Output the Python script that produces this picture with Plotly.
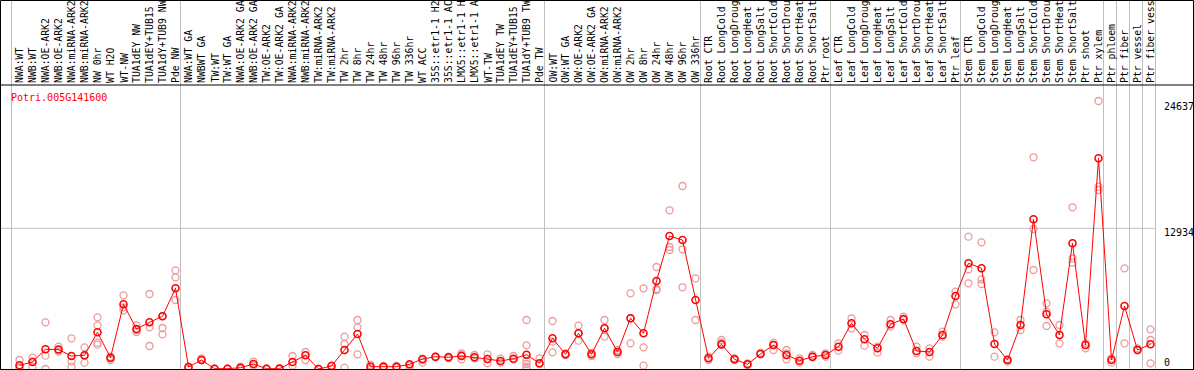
import plotly.graph_objects as go

# ---------------- data ----------------
gene_id = "Potri.005G141600"

group_nw = ["NWA:WT", "NWB:WT", "NWA:OE-ARK2", "NWB:OE-ARK2", "NWA:miRNA-ARK2", "NWB:miRNA-ARK2",
            "NW 0hr", "WT H2O", "WT-NW", "TUA1dEY NW", "TUA1dEY+TUB15 NW", "TUA1dY+TUB9 NW", "Pde NW"]
group_tw = ["NWA:WT GA", "NWBWT GA", "TW:WT", "TW:WT GA", "NWA:OE-ARK2 GA", "NWB:OE-ARK2 GA",
            "TW:OE-ARK2", "TW:OE-ARK2 GA", "NWA:miRNA-ARK2", "NWB:miRNA-ARK2", "TW:miRNA-ARK2",
            "TW:miRNA-ARK2", "TW 2hr", "TW 8hr", "TW 24hr", "TW 48hr", "TW 96hr", "TW 336hr", "WT ACC",
            "35S::etr1-1 H2O", "35S::etr1-1 ACC", "LMX5::etr1-1 H2O", "LMX5::etr1-1 ACC", "WT-TW",
            "TUA1dEY TW", "TUA1dEY+TUB15 TW", "TUA1dY+TUB9 TW", "Pde TW"]
group_ow = ["OW:WT", "OW:WT GA", "OW:OE-ARK2", "OW:OE-ARK2 GA", "OW:miRNA-ARK2", "OW:miRNA-ARK2",
            "OW 2hr", "OW 8hr", "OW 24hr", "OW 48hr", "OW 96hr", "OW 336hr"]
group_root = ["Root CTR", "Root LongCold", "Root LongDrought", "Root LongHeat", "Root LongSalt",
              "Root ShortCold", "Root ShortDrought", "Root ShortHeat", "Root ShortSalt", "Ptr root"]
group_leaf = ["Leaf CTR", "Leaf LongCold", "Leaf LongDrought", "Leaf LongHeat", "Leaf LongSalt",
              "Leaf ShortCold", "Leaf ShortDrought", "Leaf ShortHeat", "Leaf ShortSalt", "Ptr leaf"]
group_stem = ["Stem CTR", "Stem LongCold", "Stem LongDrought", "Stem LongHeat", "Stem LongSalt",
              "Stem ShortCold", "Stem ShortDrought", "Stem ShortHeat", "Stem ShortSalt", "Ptr shoot",
              "Ptr xylem"]
group_ptr = ["Ptr phloem", "Ptr fiber", "Ptr vessel", "Ptr fiber vessel"]

groups = [group_nw, group_tw, group_ow, group_root, group_leaf, group_stem] + [[c] for c in group_ptr]
categories = [c for g in groups for c in g]

mean_values = [
    340, 644, 1811, 1790, 1195, 1259, 3374, 1039, 5948, 3677, 4293, 4845, 7419,
    184, 827, 28, 28, 120, 460, 28, 28, 644, 1259, 0, 276, 1747, 3218, 211, 211, 211,
    432, 919, 1131, 1076, 1195, 1076, 919, 735, 947, 1315, 524,
    2822, 1351, 3282, 1351, 3742, 1563, 4661, 3282, 8090, 12227, 11859, 6343,
    984, 2271, 892, 432, 1379, 2206, 1287, 763, 1131, 1287,
    2050, 4201, 2730, 1903, 4109, 4597, 1655, 1563, 3126, 6711,
    9717, 9257, 2298, 827, 4045, 13762, 5029, 3126, 11556, 2206, 19370,
    827, 5792, 1747, 2271,
]

replicates = [
    [827, 61, 123], [1042, 674, 214], [4290, 1226, 0], [2053, 1746, 1593], [2819, 674, 214],
    [1992, 582, 1195], [4749, 4014, 2421, 2237], [1134, 980, 827], [6771, 5668, 5393],
    [4014, 3401, 3585], [6894, 3830, 2114], [4872, 3769, 3187], [9069, 8426, 6342],
    [214, 0], [980, 827], [31, 0], [31, 0], [214, 0], [674, 306], [31, 0], [92, 0],
    [1195, 306], [1563, 827], [0, 0], [306, 0], [2972, 2298, 123], [4504, 3830, 1348],
    [368, 0], [276, 123], [276, 123],
    [306, 61], [827, 582], [1134, 1072], [1134, 980], [1440, 1287, 889], [1287, 980],
    [1348, 521], [950, 582], [1195, 889], [4504, 2175, 735, 460, 214, 0], [980, 460],
    [4412, 1532, 2512], [1440, 1287], [3983, 2604, 3278], [1501, 1195], [4504, 2972, 3738],
    [1746, 1379], [6955, 2359, 4657], [7415, 1992, 306], [9376, 7354, 7262],
    [14589, 11215, 10940], [16823, 11004, 7511], [8334, 4504],
    [1134, 827], [2666, 2421, 2206], [980, 827], [521, 368], [1501, 1379], [2421, 1746, 2206],
    [1746, 889, 1440], [980, 582], [1287, 1072], [1440, 1134],
    [2359, 1685], [4657, 3738], [3125, 2145], [2053, 1501], [4504, 3891], [4810, 4504],
    [2053, 1440], [1900, 1134], [3432, 2972], [7108, 5944],
    [12164, 9161, 7874], [11643, 8242, 7813], [3370, 1134], [889, 674], [4504, 3585],
    [19462, 12870, 9101], [6036, 5270, 3953], [4044, 2359], [14865, 10177, 9772],
    [2359, 1900], [24637, 16759, 16455],
    [980, 582], [9253, 2359], [1746, 1900], [3646, 2666, 521],
]

right_ticks = [24637, 12934, 0]

# header only has room for this many characters (the reference cuts longer names)
LABEL_CHARS = 14

# ---------------- geometry helpers ----------------
W, H = 1194, 370
X0_PX, STEP_PX = 19.5, 13.0
xmin = -X0_PX / STEP_PX
xmax = (W - X0_PX) / STEP_PX
# y scale: value 0 at pixel 369, 12934 at pixel 228.3 (plot area = whole figure)
px_per_unit = (369 - 228.3) / 12934.0
ymax = 369 / px_per_unit
ymin = ymax - H / px_per_unit


def py(p):
    """pixel row -> paper y"""
    return 1 - p / H


def px(p):
    return p / W


x_idx = list(range(len(categories)))

fig = go.Figure()

# replicate points
rx, ry = [], []
for i, reps in enumerate(replicates):
    for v in reps:
        rx.append(i)
        ry.append(v)
fig.add_trace(go.Scatter(
    x=rx, y=ry, mode="markers",
    marker=dict(symbol="circle-open", size=7, color="#ec9a9a", line=dict(width=1.3, color="#ec9a9a")),
    hoverinfo="skip", showlegend=False,
))

# mean line
fig.add_trace(go.Scatter(
    x=x_idx, y=mean_values, mode="lines+markers",
    line=dict(color="#ff0000", width=1),
    marker=dict(symbol="circle-open", size=7, color="#ff0000", line=dict(width=1.6, color="#ff0000")),
    text=categories, showlegend=False,
))

shapes = []
# group separators (gray vertical lines, full height)
starts = []
pos = 0
for g in groups:
    starts.append(pos)
    pos += len(g)
starts.append(pos)
for s in starts:
    xs = s - 8.0 / STEP_PX
    shapes.append(dict(type="line", xref="x", yref="paper", x0=xs, x1=xs, y0=0, y1=1,
                       line=dict(color="#c0c0c0", width=1), layer="below"))
# horizontal gridline at middle tick
end_x = starts[-1] - 8.0 / STEP_PX
shapes.append(dict(type="line", xref="x", yref="y", x0=xmin, x1=end_x, y0=right_ticks[1], y1=right_ticks[1],
                   line=dict(color="#c0c0c0", width=1), layer="below"))
# header separator
shapes.append(dict(type="line", xref="paper", yref="paper", x0=0, x1=1, y0=py(85), y1=py(85),
                   line=dict(color="black", width=1)))
# bottom axis line
shapes.append(dict(type="line", xref="paper", yref="paper", x0=0, x1=1, y0=py(369.5), y1=py(369.5),
                   line=dict(color="black", width=1)))
# border
shapes.append(dict(type="rect", xref="paper", yref="paper", x0=px(0.5), x1=px(W - 0.5), y0=py(H - 0.5), y1=py(0.5),
                   line=dict(color="black", width=1)))

annotations = []
mono = "DejaVu Sans Mono"
for i, c in enumerate(categories):
    annotations.append(dict(x=i, y=py(84), xref="x", yref="paper", text=c[:LABEL_CHARS], showarrow=False,
                            textangle=-90, xanchor="center", yanchor="bottom", borderpad=0,
                            font=dict(family=mono, size=9.8, color="black")))
annotations.append(dict(x=px(9), y=py(97), xref="paper", yref="paper", text=gene_id, showarrow=False,
                        xanchor="left", yanchor="middle", font=dict(family=mono, size=10, color="#ff0000")))
for t, p in zip(right_ticks, [107, 232, 362]):
    annotations.append(dict(x=px(1162), y=py(p), xref="paper", yref="paper", text=str(t), showarrow=False,
                            xanchor="left", yanchor="middle", font=dict(family=mono, size=10, color="black")))

fig.update_layout(
    width=W, height=H,
    margin=dict(l=0, r=0, t=0, b=0, pad=0),
    paper_bgcolor="white", plot_bgcolor="white",
    xaxis=dict(range=[xmin, xmax], showgrid=False, zeroline=False, showticklabels=False, ticks="",
               showline=False, fixedrange=True),
    yaxis=dict(range=[ymin, ymax], showgrid=False, zeroline=False, showticklabels=False, ticks="",
               showline=False, fixedrange=True),
    shapes=shapes, annotations=annotations, showlegend=False,
)

fig.write_html("out.html", config={"displayModeBar": False},
               post_script="document.body.style.margin='0';document.body.style.overflow='hidden';")
